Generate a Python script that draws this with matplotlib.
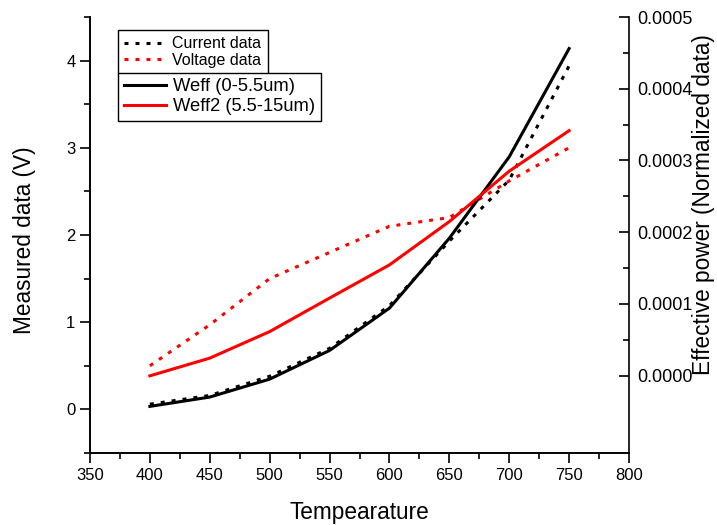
import matplotlib
matplotlib.use("Agg")
import matplotlib.pyplot as plt
from matplotlib.ticker import MultipleLocator, FixedLocator, FormatStrFormatter

plt.rcParams['font.family'] = ['Liberation Sans', 'DejaVu Sans']

# Data
temperature = [400, 450, 500, 550, 600, 650, 700, 750]
current_data = [0.06, 0.16, 0.38, 0.70, 1.19, 1.93, 2.63, 3.94]
voltage_data = [0.50, 0.97, 1.50, 1.80, 2.10, 2.20, 2.62, 3.00]
weff = [-0.43e-4, -0.30e-4, -0.05e-4, 0.35e-4, 0.94e-4, 1.915e-4, 3.05e-4, 4.56e-4]
weff2 = [-0.004e-4, 0.243e-4, 0.613e-4, 1.08e-4, 1.543e-4, 2.147e-4, 2.85e-4, 3.415e-4]
right_ticks = [0.0, 0.0001, 0.0002, 0.0003, 0.0004, 0.0005]
right_minor = [0.00005, 0.00015, 0.00025, 0.00035, 0.00045]

fig = plt.figure(figsize=(7.17, 5.25), dpi=100)
ax = fig.add_axes([90 / 717, 72 / 525, 539 / 717, 436 / 525])
ax2 = ax.twinx()

dot = (0, (1.3, 2.3))
l1, = ax.plot(temperature, current_data, color='black', lw=2.2, linestyle=dot, label='Current data')
l2, = ax.plot(temperature, voltage_data, color='red', lw=2.2, linestyle=dot, label='Voltage data')
l3, = ax2.plot(temperature, weff, color='black', lw=2.2, label='Weff (0-5.5um)')
l4, = ax2.plot(temperature, weff2, color='red', lw=2.2, label='Weff2 (5.5-15um)')

ax.set_xlim(350, 800)
ax.set_ylim(-0.5, 4.5)
ax2.set_ylim(-0.000108, 0.0005)

ax.xaxis.set_major_locator(MultipleLocator(50))
ax.xaxis.set_minor_locator(MultipleLocator(25))
ax.yaxis.set_major_locator(MultipleLocator(1))
ax.yaxis.set_minor_locator(MultipleLocator(0.5))
ax2.yaxis.set_major_locator(FixedLocator(right_ticks))
ax2.yaxis.set_minor_locator(FixedLocator(right_minor))
ax2.yaxis.set_major_formatter(FormatStrFormatter('%.4f'))

for a in (ax, ax2):
    a.spines['top'].set_visible(False)
    for s in a.spines.values():
        s.set_linewidth(1.2)
ax.spines['right'].set_visible(False)

ax.tick_params(which='major', direction='out', length=7, width=1.2, labelsize=12)
ax.tick_params(which='minor', direction='out', length=4, width=1.2)
ax2.tick_params(which='major', direction='in', length=7, width=1.2, labelsize=13, pad=6)
ax2.tick_params(which='minor', direction='in', length=4, width=1.2)

ax.set_xlabel('Tempearature', fontsize=16.3)
ax.xaxis.set_label_coords(0.5, -0.110)
ax.set_ylabel('Measured data (V)', fontsize=16.3)
ax.yaxis.set_label_coords(-0.100, 0.487)
ax2.set_ylabel('Effective power (Normalized data)', fontsize=16.3)
ax2.yaxis.set_label_coords(1.117, 0.570)

leg1 = ax.legend(handles=[l1, l2], loc='upper left', bbox_to_anchor=(0.052, 0.970),
                 fontsize=11.5, frameon=True, fancybox=False, edgecolor='black',
                 framealpha=1, borderaxespad=0, handlelength=2.5, labelspacing=0.1,
                 borderpad=0.4, handletextpad=0.5)
leg1.get_frame().set_linewidth(1)
ax.add_artist(leg1)
leg2 = ax.legend(handles=[l3, l4], loc='upper left', bbox_to_anchor=(0.052, 0.8716),
                 fontsize=13.2, frameon=True, fancybox=False, edgecolor='black',
                 framealpha=1, borderaxespad=0, handlelength=2.3, labelspacing=0.15,
                 borderpad=0.3, handletextpad=0.4)
leg2.get_frame().set_linewidth(1)

fig.savefig('out.png', dpi=100)
